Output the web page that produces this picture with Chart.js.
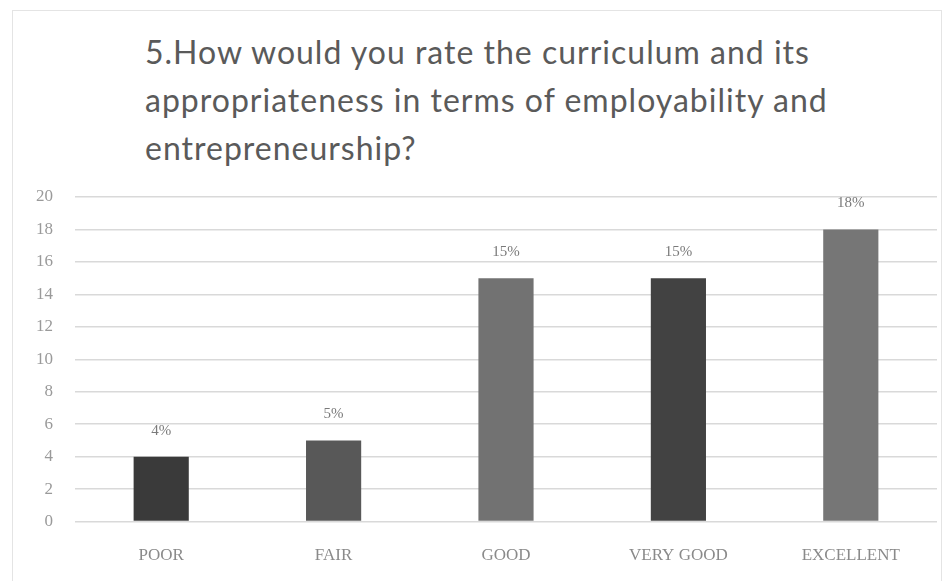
<!DOCTYPE html>
<html>
<head>
<meta charset="utf-8">
<script src="https://cdn.jsdelivr.net/npm/chart.js@4/dist/chart.umd.min.js"></script>
<style>
  html, body { margin: 0; padding: 0; background: #fff; }
  #wrap { position: relative; width: 952px; height: 581px; overflow: hidden; }
  #frame {
    position: absolute; left: 12px; top: 10px; width: 930px; height: 575px;
    border: 1px solid #e4e4e4; box-sizing: border-box;
  }
  #title {
    position: absolute; left: 145px; top: 28px;
    font-family: Lato, "Open Sans", sans-serif; font-size: 32px; line-height: 48px;
    letter-spacing: 1px;
    color: #5a5a5a;
  }
  #chartCanvas { position: absolute; left: 0; top: 0; }
</style>
</head>
<body>
<div id="wrap">
  <div id="frame"></div>
  <div id="title">5.How would you rate the curriculum and its<br>appropriateness in terms of employability and<br>entrepreneurship?</div>
  <canvas id="chartCanvas" width="952" height="581"></canvas>
</div>
<script>
const categories = ['POOR', 'FAIR', 'GOOD', 'VERY GOOD', 'EXCELLENT'];
const responses = [4, 5, 15, 15, 18];
const valueLabels = ['4%', '5%', '15%', '15%', '18%'];
const barColors = ['#3a3a3a', '#585858', '#727272', '#424242', '#767676'];

// draws the percentage text above each bar
const barLabels = {
    id: 'barLabels',
    afterDatasetsDraw(chart) {
        const ctx = chart.ctx;
        const meta = chart.getDatasetMeta(0);
        ctx.save();
        ctx.font = '15px "Liberation Serif", serif';
        ctx.fillStyle = '#7a7a7a';
        ctx.textAlign = 'center';
        ctx.textBaseline = 'middle';
        meta.data.forEach((bar, i) => {
            ctx.fillText(valueLabels[i], bar.x, bar.y - 26);
        });
        ctx.restore();
    }
};

document.addEventListener('DOMContentLoaded', () => {
    const ctx = document.getElementById('chartCanvas').getContext('2d');
    new Chart(ctx, {
        type: 'bar',
        data: {
            labels: categories,
            datasets: [{
                label: 'Responses',
                data: responses,
                backgroundColor: barColors,
                borderWidth: 0,
                barPercentage: 0.32,
                categoryPercentage: 1
            }]
        },
        options: {
            responsive: false,
            animation: false,
            layout: {
                padding: { top: 197, left: 14, right: 15, bottom: -1 }
            },
            scales: {
                x: {
                    grid: { display: false },
                    border: { display: false },
                    ticks: {
                        color: '#8a8a8a',
                        padding: 16,
                        font: { family: '"Liberation Serif", serif', size: 17 }
                    }
                },
                y: {
                    min: 0,
                    max: 20,
                    border: { display: false },
                    grid: {
                        color: '#d9d9d9',
                        lineWidth: 1.5,
                        drawTicks: false
                    },
                    ticks: {
                        stepSize: 2,
                        color: '#9a9a9a',
                        padding: 22,
                        font: { family: '"Liberation Serif", serif', size: 17 }
                    }
                }
            },
            plugins: {
                legend: { display: false },
                tooltip: { enabled: false }
            }
        },
        plugins: [barLabels]
    });
});
</script>
</body>
</html>
